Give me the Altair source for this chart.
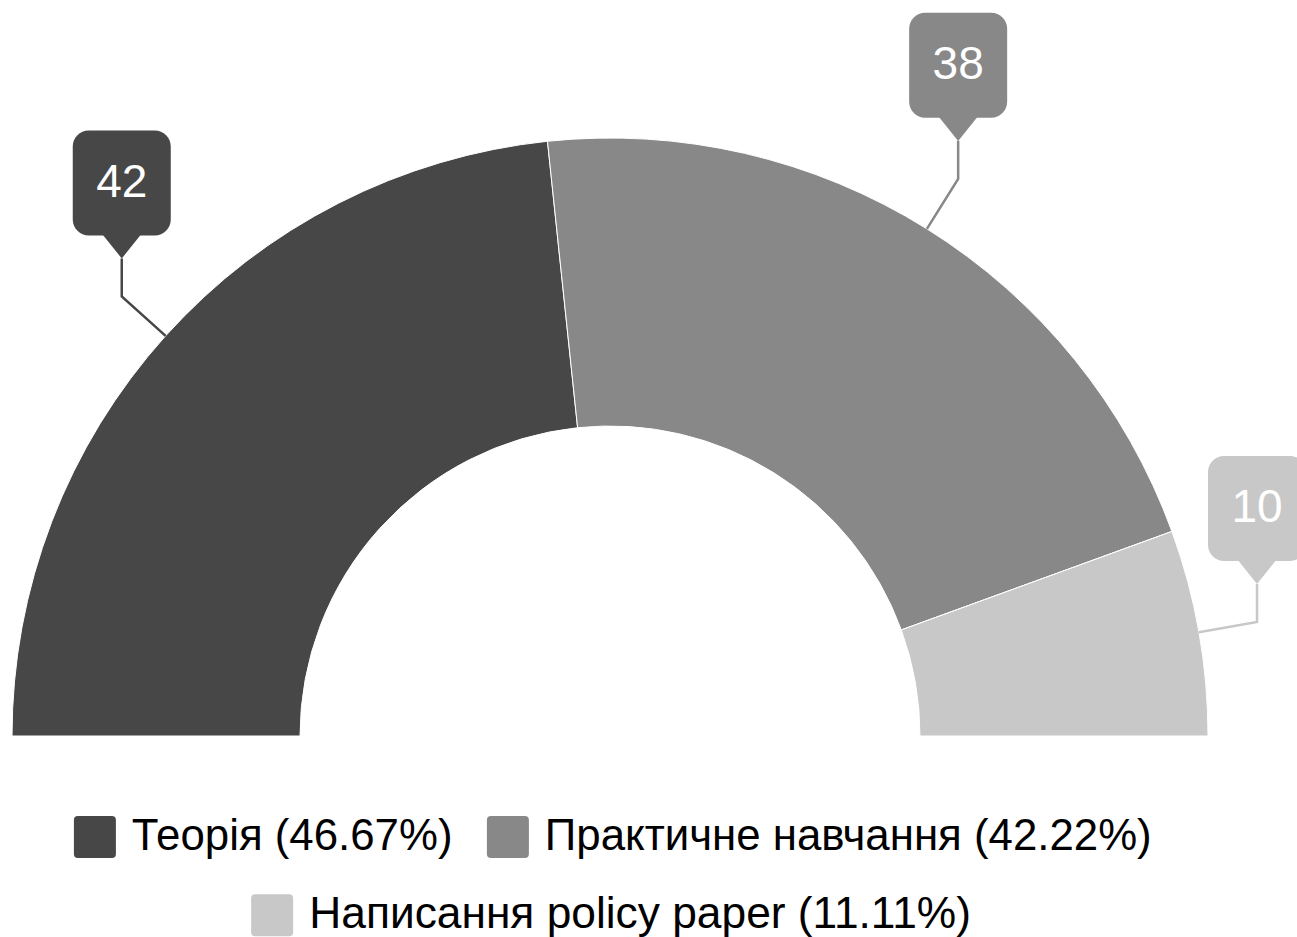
import math
import altair as alt
import pandas as pd

# ---- data ----
CATEGORIES = ["Теорія", "Практичне навчання", "Написання policy paper"]
VALUES = [42, 38, 10]

# ---- styles / layout ----
COLORS = ["#474747", "#888888", "#c8c8c8"]
W, H = 1297, 937
CX, CY = 610, 736
R_OUT, R_IN = 598, 310
CONNECT_R = 657
STEM = 38
PTR_W, PTR_H = 42, 23
BOX_W, BOX_H = 98, 105
FONT = "Liberation Sans"
SYM = 42

total = sum(VALUES)
labels = [f"{c} ({v / total * 100:.2f}%)" for c, v in zip(CATEGORIES, VALUES)]

rows, line_rows = [], []
cum = 0
for lab, v in zip(labels, VALUES):
    start, end = cum, cum + v
    cum = end
    frac = (start + end) / 2 / total
    phi = math.pi * (1 - frac)
    ax_ = CX + R_OUT * math.cos(phi)
    ay_ = CY - R_OUT * math.sin(phi)
    ex = CX + CONNECT_R * math.cos(phi)
    ey = CY - CONNECT_R * math.sin(phi)
    tx, ty = ex, ey - STEM
    bb = ty - PTR_H
    rows.append(dict(label=lab, value=v, start=start, end=end,
                     tx=tx, ty=ty, bb=bb,
                     bx1=tx - BOX_W / 2, bx2=tx + BOX_W / 2,
                     by1=bb - BOX_H, by2=bb, tcy=bb - BOX_H / 2))
    for step, (px, py) in enumerate([(ax_, ay_), (ex, ey), (tx, ty)]):
        line_rows.append(dict(label=lab, step=step, x=px, y=py))

df = pd.DataFrame(rows)
ldf = pd.DataFrame(line_rows)

xs = alt.Scale(domain=[0, W], nice=False, zero=False)
ys = alt.Scale(domain=[0, H], nice=False, zero=False, reverse=True)
color_scale = alt.Scale(domain=labels, range=COLORS)
theta_scale = alt.Scale(domain=[0, total], range=[1.5 * math.pi, 2.5 * math.pi])

r = 0.19
ROUND_SQ = (f"M{-1 + r},-1L{1 - r},-1Q1,-1 1,{-1 + r}L1,{1 - r}Q1,1 {1 - r},1"
            f"L{-1 + r},1Q-1,1 -1,{1 - r}L-1,{-1 + r}Q-1,-1 {-1 + r},-1Z")
PTR_PATH = "M-1,-0.15L1,-0.15L0,1.1Z"

legend_common = dict(
    orient="none", direction="horizontal", title=None,
    symbolType=ROUND_SQ, symbolSize=SYM * SYM, symbolStrokeWidth=0,
    symbolOpacity=1, labelFont=FONT,
    labelColor="#000000", labelOffset=15, columnPadding=33,
    labelLimit=1000, padding=0,
)

base = alt.Chart(df)

arcs = base.mark_arc(radius=R_OUT, innerRadius=R_IN, stroke="white", strokeWidth=1).encode(
    theta=alt.Theta("start:Q", scale=theta_scale),
    theta2="end:Q",
    color=alt.Color("label:N", scale=color_scale,
                    legend=alt.Legend(values=labels[:2], legendX=73, legendY=815,
                                      labelFontSize=43.8, **legend_common)),
    x=alt.value(CX), y=alt.value(CY),
)

arc_last = base.transform_filter(alt.datum.label == labels[2]).mark_arc(
    radius=R_OUT, innerRadius=R_IN, stroke="white", strokeWidth=1).encode(
    theta=alt.Theta("start:Q", scale=theta_scale),
    theta2="end:Q",
    fill=alt.Fill("label:N", scale=alt.Scale(domain=[labels[2]], range=[COLORS[2]]),
                  legend=alt.Legend(legendX=250, legendY=893,
                                    labelFontSize=44.3, **legend_common)),
    x=alt.value(CX), y=alt.value(CY),
)

lines = alt.Chart(ldf).mark_line(strokeWidth=2.5).encode(
    x=alt.X("x:Q", scale=xs, axis=None),
    y=alt.Y("y:Q", scale=ys, axis=None),
    color=alt.Color("label:N", scale=color_scale, legend=None),
    detail="label:N",
    order="step:O",
)

boxes = base.mark_rect(cornerRadius=16).encode(
    x=alt.X("bx1:Q", scale=xs, axis=None), x2="bx2:Q",
    y=alt.Y("by1:Q", scale=ys, axis=None), y2="by2:Q",
    color=alt.Color("label:N", scale=color_scale, legend=None),
)

pointers = base.mark_point(shape=PTR_PATH, size=PTR_W * PTR_W, filled=True,
                           opacity=1, strokeWidth=0).encode(
    x=alt.X("tx:Q", scale=xs, axis=None),
    y=alt.Y("bb:Q", scale=ys, axis=None),
    color=alt.Color("label:N", scale=color_scale, legend=None),
)

texts = base.mark_text(color="white", font=FONT, fontSize=46,
                       align="center", baseline="middle").encode(
    x=alt.X("tx:Q", scale=xs, axis=None),
    y=alt.Y("tcy:Q", scale=ys, axis=None),
    text="value:Q",
)

chart = alt.layer(arcs, arc_last, lines, boxes, pointers, texts).properties(
    width=W, height=H, padding=0, autosize="none", background="white",
).configure_view(stroke=None)

chart.save("out.html", embed_options={"renderer": "svg", "actions": False})
